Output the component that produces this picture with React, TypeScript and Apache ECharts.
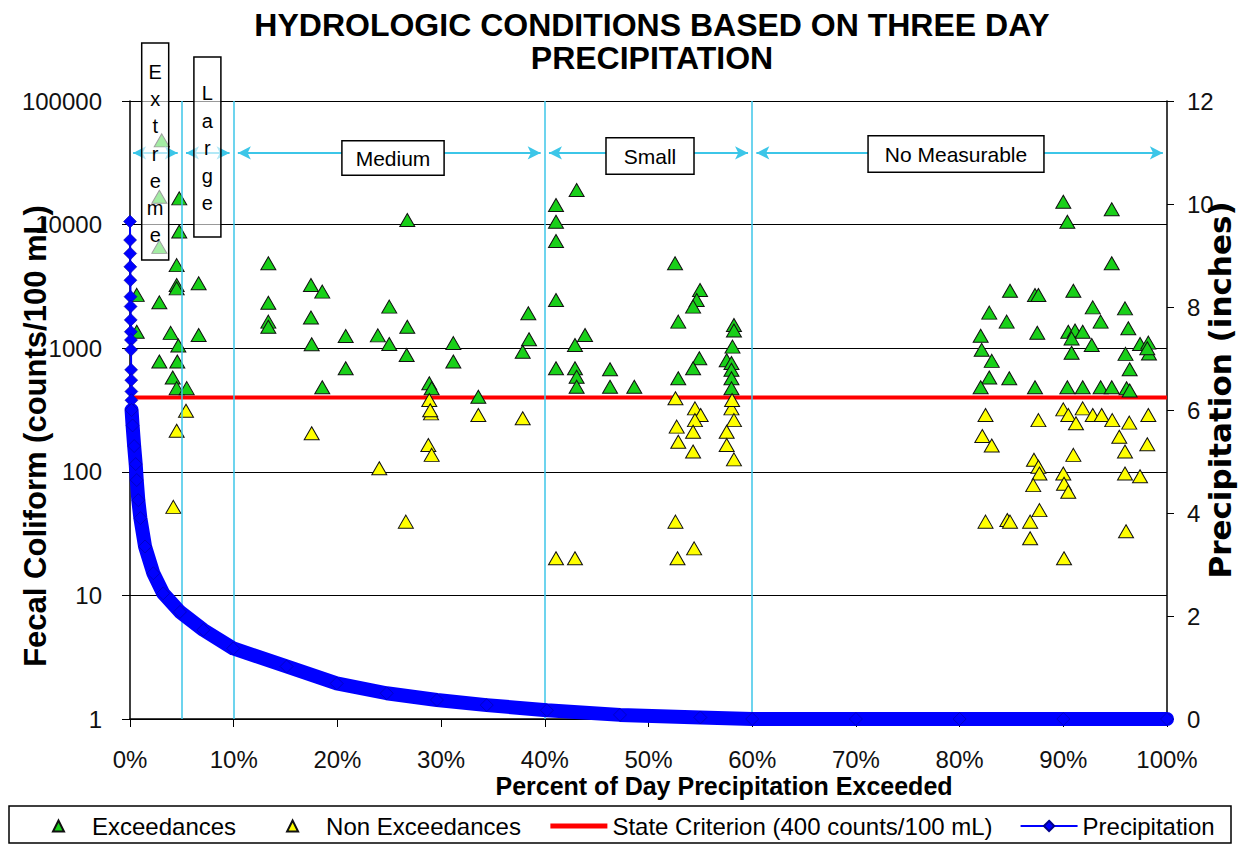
import { useEffect, useRef } from "react";
import * as echarts from "echarts";

const FONT = "'Liberation Sans', Arial, Helvetica, sans-serif";
const WIDE_FONT = "'DejaVu Sans', 'Liberation Sans', Arial, sans-serif";
const CYAN = "#3cc6e8";

// Tick labels
const percentTickStep = 10;
const precipTickStep = 2;

// [percent of days exceeded, fecal coliform counts/100 mL]
const exceedances: number[][] = [
  [3.06, 48000], [2.83, 16800], [4.75, 16300], [4.75, 8800], [2.83, 6600],
  [4.5, 4700], [4.5, 3250], [4.5, 3050], [6.62, 3350], [0.65, 2700],
  [2.83, 2350], [0.65, 1360], [3.92, 1330], [6.62, 1280], [4.66, 1050],
  [2.83, 780], [4.56, 780], [4.12, 580], [4.5, 475], [5.47, 475],
  [13.34, 4860], [13.34, 2330], [13.34, 1640], [13.34, 1490], [17.45, 3250],
  [18.54, 2870], [17.45, 1770], [17.52, 1075], [20.8, 1256], [20.8, 688],
  [18.54, 483], [23.9, 1270], [25.0, 2170], [26.74, 1490], [25.0, 1080],
  [26.68, 880], [26.74, 10900], [31.18, 1100], [31.18, 780], [28.86, 520],
  [29.09, 474], [33.59, 405], [38.41, 1915], [38.48, 1180], [37.87, 937],
  [41.08, 14400], [41.08, 10550], [41.08, 7370], [41.08, 2455], [41.08, 688],
  [43.07, 19050], [43.88, 1280], [42.91, 1060], [42.91, 688], [43.07, 588],
  [43.07, 488], [46.29, 675], [46.29, 488], [48.63, 488], [52.56, 4860],
  [52.87, 1640], [52.87, 571], [54.97, 2960], [54.65, 2455], [54.3, 2170],
  [54.9, 830], [54.3, 688], [58.24, 1540], [58.24, 1390], [58.1, 1030],
  [57.54, 800], [58.0, 760], [58.0, 670], [58.0, 571], [58.0, 474],
  [90.0, 15300], [90.39, 10550], [94.67, 13300], [94.67, 4860], [84.86, 2920],
  [87.27, 2690], [87.6, 2690], [90.97, 2920], [82.86, 1940], [84.54, 1640],
  [92.84, 2140], [93.6, 1640], [95.95, 2100], [96.27, 1450], [82.03, 1260],
  [87.49, 1335], [90.48, 1360], [91.13, 1390], [91.87, 1360], [90.8, 1200],
  [92.74, 1060], [90.8, 920], [82.13, 970], [83.1, 790], [82.86, 580],
  [82.03, 483], [84.79, 571], [87.27, 483], [90.39, 483], [91.87, 483],
  [93.6, 483], [94.67, 483], [96.1, 474], [96.4, 455], [96.0, 900],
  [96.4, 675], [97.4, 1080], [98.2, 1110], [98.26, 907], [98.1, 1000],
];

const nonExceedances: number[][] = [
  [5.4, 312], [4.5, 215], [17.52, 205], [24.04, 107], [4.18, 52],
  [28.86, 381], [29.03, 297], [28.95, 315], [33.59, 288], [37.87, 271],
  [28.77, 165], [29.09, 137], [26.6, 39.5], [52.6, 393], [54.48, 326],
  [55.03, 288], [54.48, 262], [54.3, 211], [52.72, 232], [52.87, 175],
  [54.3, 146], [58.0, 326], [58.24, 262], [57.54, 211], [57.54, 165],
  [58.24, 126], [52.6, 39.5], [41.08, 20], [42.91, 20], [52.8, 20],
  [54.4, 24], [58.06, 381], [82.5, 288], [87.6, 262], [90.0, 320],
  [90.48, 288], [91.22, 247], [91.87, 326], [92.84, 288], [93.7, 288],
  [94.72, 262], [96.36, 250], [98.2, 288], [82.19, 195], [83.1, 163],
  [95.4, 192], [95.95, 146], [98.1, 167], [87.17, 125], [87.6, 110],
  [87.7, 97], [87.1, 78], [90.97, 137], [90.0, 97], [90.07, 80],
  [90.48, 69], [95.95, 97], [97.4, 92], [82.5, 39.5], [84.6, 40.7],
  [84.86, 39.5], [87.7, 49], [86.8, 39.5], [86.8, 29], [90.07, 20],
  [96.05, 33],
];

// [percent of days exceeded, three day precipitation in inches]
const precipitation: number[][] = [
  [0, 9.66], [0.01, 9.3], [0.02, 9.04], [0.03, 8.78], [0.04, 8.52],
  [0.05, 8.2], [0.06, 8.01], [0.07, 7.75], [0.08, 7.52], [0.09, 7.36],
  [0.1, 7.17], [0.11, 6.78], [0.12, 6.58], [0.13, 6.36], [0.14, 6.19],
  [0.15, 6.0], [0.25, 5.7], [0.4, 5.3], [0.55, 4.95], [0.65, 4.64],
  [0.8, 4.25], [1.0, 3.9], [1.45, 3.35], [2.25, 2.83], [3.2, 2.44],
  [4.82, 2.08], [7.07, 1.73], [9.96, 1.37], [15.1, 1.02], [19.93, 0.69],
  [24.75, 0.5], [29.6, 0.37], [34.4, 0.27], [40.2, 0.17], [47.25, 0.08],
  [55, 0.03], [60, 0], [70, 0], [80, 0], [90, 0], [100, 0],
];

const criterionValue = 400;
const criterionSpan = [0, 100];
const zoneLimits = [5, 10, 40, 60];
const zoneArrows: number[][] = [
  [0.3, 4.6], [5.4, 9.6], [10.4, 39.6], [40.4, 59.6], [60.4, 99.6],
];
const zoneArrowLevel = 38000;
const zoneNames = ["Extreme", "Large", "Medium", "Small", "No Measurable"];
const seriesNames = [
  "Exceedances",
  "Non Exceedances",
  "State Criterion (400 counts/100 mL)",
  "Precipitation",
];
const chartTitle = "HYDROLOGIC CONDITIONS BASED ON THREE DAY\nPRECIPITATION";
const xTitle = "Percent of Day Precipitation Exceeded";
const yLeftTitle = "Fecal Coliform (counts/100 mL)";
const yRightTitle = "Precipitation (inches)";

// legend triangle: the lone moveTo points pin the icon box to the full legend item width
const TRIANGLE_ICON = "path://M0,13M57,0M23,12L28.5,1L34,12Z";

function verticalLabel(text: string, cx: number, top: number, bottom: number, firstCenter: number, step: number) {
  return {
    type: "group",
    z: 100,
    children: [
      {
        type: "rect",
        z: 100,
        shape: { x: cx - 13.5, y: top, width: 27, height: bottom - top },
        style: { fill: "rgba(255,255,255,0.6)", stroke: "#000", lineWidth: 1.5 },
      },
      {
        type: "text",
        z: 101,
        x: cx,
        y: firstCenter - step / 2,
        style: {
          text: text.split("").join("\n"),
          fontSize: 20,
          fontFamily: FONT,
          fill: "#000",
          align: "center",
          verticalAlign: "top",
          lineHeight: step,
        },
      },
    ],
  };
}

function boxedLabel(text: string, cx: number, cy: number, padH: number, padV: number) {
  return {
    type: "text",
    z: 100,
    x: cx,
    y: cy,
    style: {
      text,
      fontSize: 21,
      fontFamily: FONT,
      fill: "#000",
      align: "center",
      verticalAlign: "middle",
      lineHeight: 23,
      backgroundColor: "#fff",
      borderColor: "#000",
      borderWidth: 1.5,
      padding: [padV, padH],
    },
  };
}

function axisTitle(text: string, x: number, y: number, rotation: number, fontSize: number, fontFamily: string) {
  return {
    type: "text",
    z: 50,
    x,
    y,
    rotation,
    style: {
      text,
      fontSize,
      fontWeight: "bold",
      fontFamily,
      fill: "#000",
      align: "center",
      verticalAlign: "middle",
      lineHeight: fontSize + 1,
    },
  };
}

export default function App() {
  const ref = useRef<HTMLDivElement>(null);

  useEffect(() => {
    if (!ref.current) return;
    const chart = echarts.init(ref.current, null, { renderer: "svg" });

    const option: any = {
      animation: false,
      backgroundColor: "#fff",
      textStyle: { fontFamily: FONT },
      title: {
        text: chartTitle,
        left: 647,
        top: 3,
        textAlign: "center",
        textStyle: { fontSize: 32, fontWeight: "bold", color: "#000", lineHeight: 33, fontFamily: FONT },
      },
      legend: {
        data: [
          { name: seriesNames[0], icon: TRIANGLE_ICON },
          { name: seriesNames[1], icon: TRIANGLE_ICON },
          { name: seriesNames[2], itemStyle: { opacity: 0 }, lineStyle: { width: 5 } },
          { name: seriesNames[3] },
        ],
        left: 24,
        top: 808,
        padding: 5,
        itemWidth: 57,
        itemHeight: 13,
        itemGap: 27,
        symbolKeepAspect: true,
        selectedMode: false,
        textStyle: { fontSize: 24, color: "#000", fontFamily: FONT, lineHeight: 26 },
      },
      grid: {
        left: 130,
        right: 74,
        top: 101,
        bottom: 127,
        containLabel: false,
        outerBoundsMode: "none",
      },
      xAxis: {
        type: "value",
        min: 0,
        max: 100,
        interval: percentTickStep,
        axisLine: { onZero: false, lineStyle: { color: "#000", width: 1.5 } },
        axisTick: { show: true, length: 8, lineStyle: { color: "#000" } },
        axisLabel: { fontSize: 24, lineHeight: 20, color: "#111", margin: 30, formatter: "{value}%" },
        splitLine: { show: false },
      },
      yAxis: [
        {
          type: "log",
          logBase: 10,
          min: 1,
          max: 100000,
          position: "left",
          axisLine: { show: true, lineStyle: { color: "#000", width: 1.5 } },
          axisTick: { show: true, length: 8, lineStyle: { color: "#000" } },
          axisLabel: {
            fontSize: 24,
            color: "#111",
            margin: 28,
            formatter: (v: number) => String(Math.round(v)),
          },
          splitLine: { show: true, lineStyle: { color: "#000", width: 1 } },
          minorTick: { show: false },
        },
        {
          type: "value",
          min: 0,
          max: 12,
          interval: precipTickStep,
          position: "right",
          axisLine: { show: true, lineStyle: { color: "#000", width: 1.5 } },
          axisTick: { show: true, length: 7, lineStyle: { color: "#000" } },
          axisLabel: { fontSize: 24, color: "#111", margin: 20 },
          splitLine: { show: false },
        },
      ],
      series: [
        {
          name: seriesNames[2],
          type: "line",
          data: criterionSpan.map((x) => [x, criterionValue]),
          symbol: "none",
          lineStyle: { color: "#ff0000", width: 4 },
          itemStyle: { color: "#ff0000" },
          z: 2,
          markLine: {
            silent: true,
            symbol: "none",
            label: { show: false },
            lineStyle: { color: CYAN, width: 1.5, type: "solid" },
            emphasis: { disabled: true },
            data: zoneLimits.map((v) => ({ xAxis: v })),
          },
        },
        {
          name: "zones",
          type: "scatter",
          data: [],
          silent: true,
          z: 2,
          markLine: {
            silent: true,
            symbol: ["arrow", "arrow"],
            symbolSize: [10, 13],
            label: { show: false },
            lineStyle: { color: CYAN, width: 2, type: "solid" },
            itemStyle: { color: CYAN },
            emphasis: { disabled: true },
            data: zoneArrows.map(([a, b]) => [
              { coord: [a, zoneArrowLevel] },
              { coord: [b, zoneArrowLevel] },
            ]),
          },
        },
        {
          name: seriesNames[0],
          type: "scatter",
          data: exceedances,
          symbol: "triangle",
          symbolSize: [15, 13],
          itemStyle: { color: "#19d019", borderColor: "#111", borderWidth: 1, opacity: 1 },
          z: 3,
        },
        {
          name: seriesNames[1],
          type: "scatter",
          data: nonExceedances,
          symbol: "triangle",
          symbolSize: [15, 13],
          itemStyle: { color: "#ffff00", borderColor: "#111", borderWidth: 1, opacity: 1 },
          z: 3,
        },
        {
          name: "precipBand",
          type: "line",
          yAxisIndex: 1,
          data: precipitation.filter((p) => p[0] >= 0.15),
          symbol: "none",
          clip: false,
          silent: true,
          lineStyle: { color: "#0000ff", width: 14, cap: "round", join: "round" },
          z: 5,
        },
        {
          name: seriesNames[3],
          type: "line",
          yAxisIndex: 1,
          data: precipitation,
          symbol: "diamond",
          symbolSize: 13,
          showSymbol: true,
          clip: false,
          lineStyle: { color: "#0000ff", width: 2 },
          itemStyle: { color: "#0000ff", borderColor: "#00008b", borderWidth: 0.5 },
          z: 6,
        },
      ],
      graphic: [
        {
          type: "rect",
          z: 100,
          shape: { x: 9, y: 806, width: 1222, height: 37 },
          style: { fill: "none", stroke: "#000", lineWidth: 1.5 },
        },
        axisTitle(xTitle, 724, 786, 0, 25, FONT),
        axisTitle(yLeftTitle, 35, 436, Math.PI / 2, 31, FONT),
        axisTitle(yRightTitle, 1220, 390, Math.PI / 2, 31, WIDE_FONT),
        verticalLabel(zoneNames[0], 155.2, 43, 260, 72, 27.2),
        verticalLabel(zoneNames[1], 207.4, 57, 237, 93.3, 27.5),
        boxedLabel(zoneNames[2], 393, 158, 13, 5),
        boxedLabel(zoneNames[3], 650, 156, 17, 6),
        boxedLabel(zoneNames[4], 956, 154, 16, 6),
      ],
    };

    chart.setOption(option);
    return () => chart.dispose();
  }, []);

  return (
    <div
      ref={ref}
      style={{ position: "absolute", left: 0, top: 0, width: 1241, height: 846, background: "#fff" }}
    />
  );
}
